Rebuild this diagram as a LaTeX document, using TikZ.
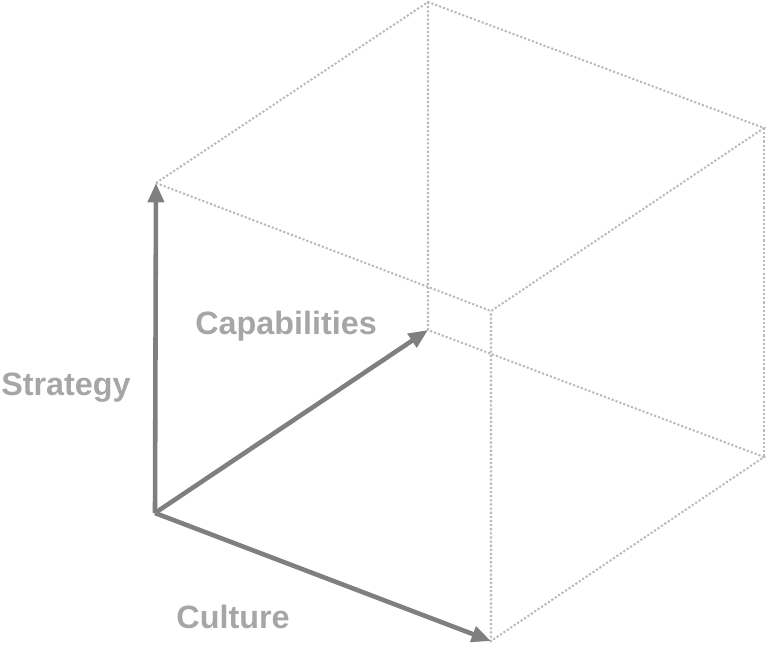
\documentclass[tikz,border=0pt]{standalone}
\usepackage{fontspec}
\setmainfont{Liberation Sans}
\usetikzlibrary{arrows.meta}

\definecolor{axisgray}{RGB}{127,127,127}
\definecolor{edgegray}{RGB}{185,185,185}
\definecolor{textgray}{RGB}{166,166,166}

\begin{document}
\begin{tikzpicture}[
    x=0.02cm, y=-0.02cm,
    axis/.style={draw=axisgray, line width=2.6pt, -{Triangle[length=11pt,width=9pt]}},
    edge/.style={draw=edgegray, line width=1.15pt, dash pattern=on 1.2pt off 1.15pt},
    axislabel/.style={text=textgray, font=\fontsize{18.4}{22}\selectfont\bfseries, inner sep=0pt}
]
\useasboundingbox (0,0) rectangle (768,647);

% Corners of the box
\coordinate (o) at (155,513);
\coordinate (s) at (156,183);
\coordinate (c) at (428,330);
\coordinate (u) at (491,641);
\coordinate (sc) at (428,2);
\coordinate (su) at (491,311);
\coordinate (cu) at (764,457);
\coordinate (scu) at (764,128);

% Dotted edges
\path [edge] (s) -- (sc) -- (scu) -- (su) -- cycle;
\path [edge] (sc) -- (c) -- (cu) -- (u) -- (su);
\path [edge] (scu) -- (cu);

% Axes
\path [axis] (o) -- (s);
\path [axis] (o) -- (c);
\path [axis] (o) -- (u);

% Labels
\node [axislabel] (strategy) at (66,388) {Strategy};
\node [axislabel] (capabilities) at (286,326) {Capabilities};
\node [axislabel] (culture) at (233,617) {Culture};

\end{tikzpicture}
\end{document}
